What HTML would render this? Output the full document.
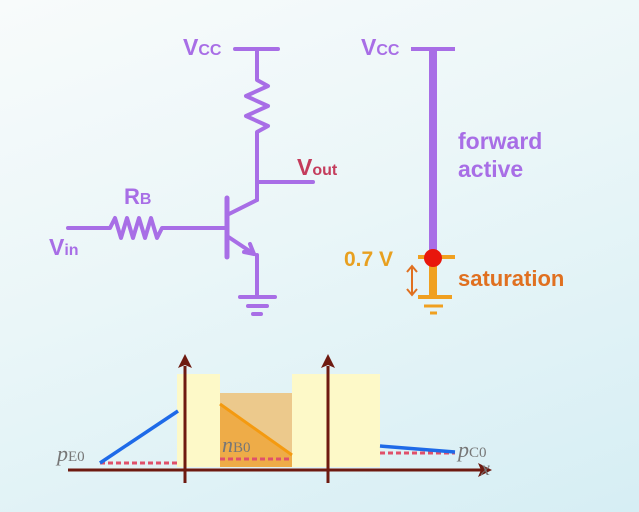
<!DOCTYPE html>
<html><head><meta charset="utf-8"><style>
html,body{margin:0;padding:0}
body{width:639px;height:512px;overflow:hidden;background:linear-gradient(160deg,#f8fbfb 0%,#eaf6f8 45%,#d6eef4 100%);}
svg{display:block}
.s{font-family:"Liberation Sans",sans-serif;font-weight:bold}
.m{font-family:"Liberation Serif",serif;font-style:italic;fill:#777}
</style></head><body>
<svg width="639" height="512" viewBox="0 0 639 512">
<g stroke="#a86ee6" stroke-width="4" fill="none" stroke-linecap="round" stroke-linejoin="round">
 <line x1="235" y1="49" x2="278" y2="49"/>
 <polyline points="257,49 257,80 268,86 246,96 268,106 246,116 268,126 257,132 257,200"/>
 <line x1="257" y1="182" x2="313" y2="182"/>
 <line x1="227" y1="198" x2="227" y2="257" stroke-width="5"/>
 <line x1="227" y1="215" x2="257" y2="200"/>
 <line x1="227" y1="236" x2="254" y2="254"/>
 <polyline points="244,252 254,254 250,244"/>
 <line x1="257" y1="255" x2="257" y2="297"/>
 <line x1="240" y1="297" x2="275" y2="297"/>
 <line x1="248" y1="306" x2="267" y2="306"/>
 <line x1="253" y1="314" x2="261" y2="314"/>
 <polyline points="68,228 110,228 115,218 121,238 127,218 133,238 139,218 145,238 151,218 157,238 162,228 227,228"/>
</g>
<text class="s" x="183" y="55" font-size="23" fill="#a86ee6">V<tspan font-size="16">CC</tspan></text>
<text class="s" x="297" y="175" font-size="23" fill="#c43c5c">V<tspan font-size="16">out</tspan></text>
<text class="s" x="124" y="204" font-size="22" fill="#a86ee6">R<tspan font-size="16">B</tspan></text>
<text class="s" x="49" y="255" font-size="23" fill="#a86ee6">V<tspan font-size="16">in</tspan></text>

<g stroke-linecap="butt">
 <line x1="411" y1="49" x2="455" y2="49" stroke="#a86ee6" stroke-width="4"/>
 <line x1="433" y1="49" x2="433" y2="258" stroke="#a86ee6" stroke-width="8"/>
 <line x1="418" y1="257" x2="455" y2="257" stroke="#f0a020" stroke-width="4"/>
 <line x1="433" y1="260" x2="433" y2="297" stroke="#f0a020" stroke-width="8"/>
 <line x1="418" y1="297" x2="452" y2="297" stroke="#f0a020" stroke-width="4"/>
 <line x1="424" y1="306" x2="443" y2="306" stroke="#f0a020" stroke-width="3"/>
 <line x1="430" y1="313" x2="437" y2="313" stroke="#f0a020" stroke-width="3"/>
 <line x1="412" y1="267" x2="412" y2="294" stroke="#e07020" stroke-width="2"/>
 <polyline points="407,272 412,266 417,272" fill="none" stroke="#e07020" stroke-width="2"/>
 <polyline points="407,289 412,295 417,289" fill="none" stroke="#e07020" stroke-width="2"/>
 <circle cx="433" cy="258" r="9" fill="#e8160c"/>
</g>
<text class="s" x="361" y="55" font-size="23" fill="#a86ee6">V<tspan font-size="16">CC</tspan></text>
<text class="s" x="458" y="149" font-size="23" fill="#a86ee6">forward</text>
<text class="s" x="458" y="177" font-size="23" fill="#a86ee6">active</text>
<text class="s" x="344" y="266" font-size="21" fill="#e8a020">0.7 V</text>
<text class="s" x="458" y="286" font-size="22" fill="#e07020">saturation</text>

<g>
 <rect x="177" y="374" width="43" height="93" fill="#fdf9c8"/>
 <rect x="292" y="374" width="88" height="93" fill="#fdf9c8"/>
 <rect x="220" y="393" width="72" height="74" fill="#ecc98c"/>
 <polygon points="220,404 292,455 292,467 220,467" fill="#eeac48"/>
 <line x1="220" y1="404" x2="292" y2="455" stroke="#f49a10" stroke-width="3"/>
 <line x1="100" y1="463" x2="178" y2="463" stroke="#e0506a" stroke-width="3" stroke-dasharray="5,3"/>
 <line x1="220" y1="459" x2="292" y2="459" stroke="#e0506a" stroke-width="3" stroke-dasharray="5,3"/>
 <line x1="380" y1="453" x2="455" y2="453" stroke="#e0506a" stroke-width="3" stroke-dasharray="5,3"/>
 <line x1="100" y1="463" x2="178" y2="411" stroke="#1e6ae8" stroke-width="3.5"/>
 <line x1="380" y1="446" x2="455" y2="452" stroke="#1e6ae8" stroke-width="3.5"/>
 <line x1="68" y1="470" x2="482" y2="470" stroke="#6e1a10" stroke-width="3"/>
 <polygon points="492,470 478,463 481,470 478,477" fill="#6e1a10"/>
 <line x1="185" y1="366" x2="185" y2="483" stroke="#6e1a10" stroke-width="3"/>
 <polygon points="185,354 178,368 185,365 192,368" fill="#6e1a10"/>
 <line x1="328" y1="366" x2="328" y2="483" stroke="#6e1a10" stroke-width="3"/>
 <polygon points="328,354 321,368 328,365 335,368" fill="#6e1a10"/>
</g>
<text class="m" x="57" y="461" font-size="22">p<tspan font-style="normal" font-size="15">E0</tspan></text>
<text class="m" x="222" y="452" font-size="22">n<tspan font-style="normal" font-size="15">B0</tspan></text>
<text class="m" x="458" y="457" font-size="22">p<tspan font-style="normal" font-size="15">C0</tspan></text>
<text class="m" x="481" y="475" font-size="20">x</text>
</svg>
</body></html>
